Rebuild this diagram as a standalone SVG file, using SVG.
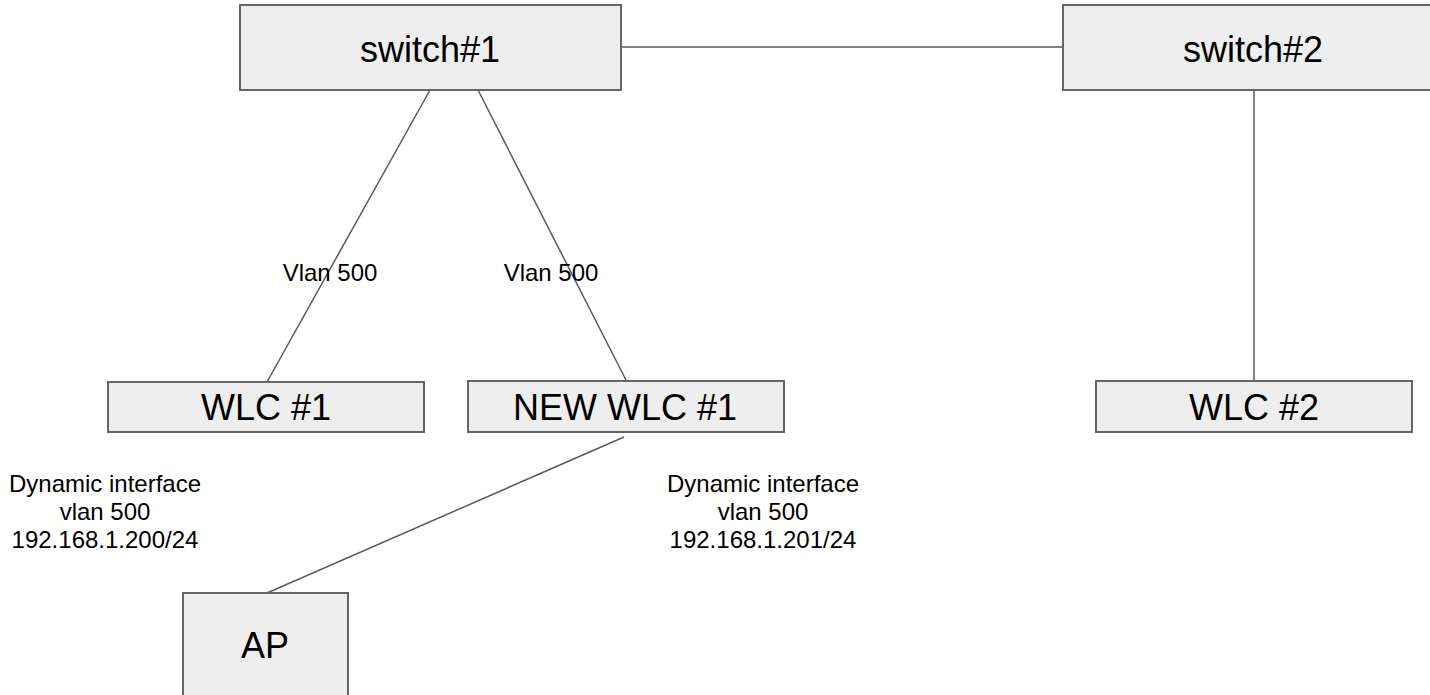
<svg xmlns="http://www.w3.org/2000/svg" width="1430" height="695" viewBox="0 0 1430 695">
<style>
.box{fill:#eeeeee;stroke:#666666;stroke-width:2}
.big{font-family:"Liberation Sans",Arial,sans-serif;font-size:36px;fill:#000;text-anchor:middle}
.small{font-family:"Liberation Sans",Arial,sans-serif;font-size:24px;fill:#000;text-anchor:middle}
.conn line{stroke:#595959;stroke-width:1.5;fill:none}
</style>
<rect width="1430" height="695" fill="#ffffff"/>
<g id="connectors" class="conn">
<line x1="621" y1="47" x2="1063" y2="47"/>
<line x1="430" y1="90" x2="267" y2="382"/>
<line x1="478" y1="90" x2="627" y2="382"/>
<line x1="1254" y1="90" x2="1254" y2="382"/>
<line x1="624" y1="437" x2="267" y2="593"/>
</g>
<g id="switch1">
<rect class="box" x="240" y="5" width="381" height="85"/>
<text class="big" x="430" y="62">switch#1</text>
</g>
<g id="switch2">
<rect class="box" x="1063" y="5" width="380" height="85"/>
<text class="big" x="1253" y="62">switch#2</text>
</g>
<g id="wlc1">
<rect class="box" x="108" y="382" width="316" height="50"/>
<text class="big" x="266" y="420">WLC #1</text>
</g>
<g id="newwlc1">
<rect class="box" x="468" y="381" width="316" height="51"/>
<text class="big" x="625" y="420">NEW WLC #1</text>
</g>
<g id="wlc2">
<rect class="box" x="1096" y="381" width="316" height="51"/>
<text class="big" x="1254" y="420">WLC #2</text>
</g>
<g id="ap">
<rect class="box" x="183" y="593" width="165" height="110"/>
<text class="big" x="265" y="658">AP</text>
</g>
<g id="labels">
<text class="small" x="330" y="281">Vlan 500</text>
<text class="small" x="551" y="281">Vlan 500</text>
<text class="small" x="105" y="492">Dynamic interface</text>
<text class="small" x="105" y="520">vlan 500</text>
<text class="small" x="105" y="548">192.168.1.200/24</text>
<text class="small" x="763" y="492">Dynamic interface</text>
<text class="small" x="763" y="520">vlan 500</text>
<text class="small" x="763" y="548">192.168.1.201/24</text>
</g>
</svg>
